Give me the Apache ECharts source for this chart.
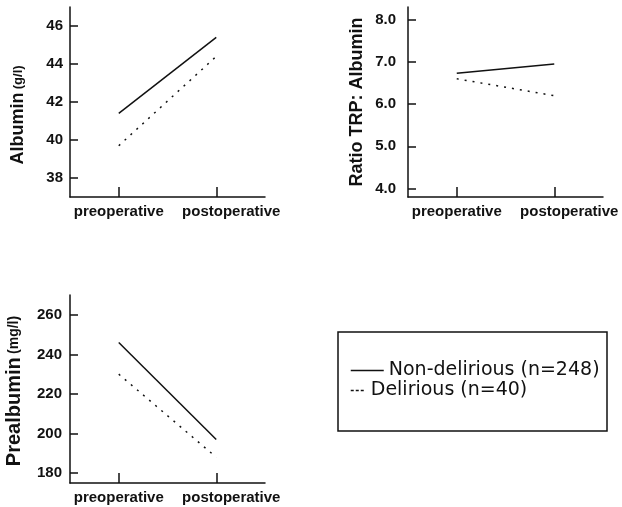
<!DOCTYPE html>
<html>
<head>
<meta charset="utf-8">
<script src="https://cdn.jsdelivr.net/npm/echarts@6/dist/echarts.min.js"></script>
<style>html,body{margin:0;padding:0;background:#fff;}#c{width:622px;height:507px;}</style>
</head>
<body>
<div id="c"></div>
<script>
const categories = ['preoperative', 'postoperative'];
const seriesNames = ['Non-delirious (n=248)', 'Delirious (n=40)'];

const albuminNon = [41.4, 45.4];
const albuminDel = [39.7, 44.4];
const ratioNon = [6.73, 6.95];
const ratioDel = [6.6, 6.2];
const prealbNon = [246, 197];
const prealbDel = [230, 188];

const albuminTicks = [38, 40, 42, 44, 46];
const ratioTicks = [4, 5, 6, 7, 8];
const prealbTicks = [180, 200, 220, 240, 260];

const FONT = '"Liberation Sans", Arial, sans-serif';
const INK = '#111';

const chart = echarts.init(document.getElementById('c'), null, {renderer: 'canvas'});

function xAxis(gi) {
  return {
    type: 'category', gridIndex: gi, data: categories, boundaryGap: true,
    axisLine: {show: true, lineStyle: {color: INK, width: 1.5}},
    axisTick: {show: true, inside: true, alignWithLabel: true, interval: 0, length: 10, lineStyle: {color: INK, width: 1.5}},
    axisLabel: {
      interval: 0, hideOverlap: false,
      color: INK, fontFamily: FONT, fontWeight: 'bold', fontSize: 15, margin: 7,
      formatter: v => v === 'postoperative' ? '{p|' + v + '}' : v,
      rich: {p: {color: INK, fontFamily: FONT, fontWeight: 'bold', fontSize: 15, padding: [0, 0, 0, 30]}}
    },
    splitLine: {show: false}
  };
}
function yAxis(gi, min, max, ticks, name, unit, fmt, gap, margin, fs, pad) {
  return {
    type: 'value', gridIndex: gi, min: min, max: max,
    name: unit ? '{a|' + name + '} {b|' + unit + '}' : '{a|' + name + '}',
    nameLocation: 'middle', nameGap: gap, nameRotate: 90,
    nameTextStyle: {
      padding: pad,
      rich: {
        a: {fontFamily: FONT, fontWeight: 'bold', fontSize: fs, color: INK},
        b: {fontFamily: FONT, fontWeight: 'bold', fontSize: Math.round(fs * 0.72), color: INK}
      }
    },
    axisLine: {show: true, lineStyle: {color: INK, width: 1.5}},
    axisTick: {show: true, inside: true, length: 8, customValues: ticks, lineStyle: {color: INK, width: 1.5}},
    axisLabel: {customValues: ticks, color: INK, fontFamily: FONT, fontWeight: 'bold', fontSize: 15, margin: margin, formatter: fmt},
    splitLine: {show: false}
  };
}
function line(gi, name, data, dashed) {
  return {
    type: 'line', name: name, xAxisIndex: gi, yAxisIndex: gi, data: data,
    symbol: 'none', silent: true, color: INK, z: 3,
    itemStyle: {color: INK},
    lineStyle: {color: INK, width: 1.5, type: dashed ? [2, 6] : 'solid'}
  };
}

const legendText = {fontFamily: '"DejaVu Sans", sans-serif', fontSize: 19, color: INK};

chart.setOption({
  animation: false,
  backgroundColor: '#fff',
  grid: [
    {left: 70, top: 7, width: 195, height: 190},
    {left: 408, top: 7, width: 195, height: 190},
    {left: 70, top: 295, width: 195, height: 188}
  ],
  xAxis: [xAxis(0), xAxis(1), xAxis(2)],
  yAxis: [
    yAxis(0, 37, 47, albuminTicks, 'Albumin', '(g/l)', v => String(v), 43, 7, 18, [0, 26, 0, 0]),
    yAxis(1, 3.8, 8.3, ratioTicks, 'Ratio TRP: Albumin', '', v => v.toFixed(1), 42, 12, 18, 0),
    yAxis(2, 175, 270, prealbTicks, 'Prealbumin', '(mg/l)', v => String(v), 46, 8, 20, [0, 4, 0, 0])
  ],
  legend: [
    {
      data: [seriesNames[0]], left: 350, top: 361, itemWidth: 33, itemHeight: 14,
      itemStyle: {opacity: 0},
      lineStyle: {color: INK, width: 1.5},
      textStyle: legendText, selectedMode: false, padding: 0
    },
    {
      data: [seriesNames[1]], left: 350, top: 381, itemWidth: 15, itemHeight: 14,
      itemStyle: {opacity: 0},
      lineStyle: {color: INK, width: 1.5, type: [3, 2]},
      textStyle: legendText, selectedMode: false, padding: 0
    }
  ],
  graphic: [
    {type: 'rect', shape: {x: 338, y: 332, width: 269, height: 99}, style: {fill: 'none', stroke: INK, lineWidth: 1.5}, silent: true}
  ],
  series: [
    line(0, seriesNames[0], albuminNon, false),
    line(0, seriesNames[1], albuminDel, true),
    line(1, seriesNames[0], ratioNon, false),
    line(1, seriesNames[1], ratioDel, true),
    line(2, seriesNames[0], prealbNon, false),
    line(2, seriesNames[1], prealbDel, true)
  ]
});
</script>
</body>
</html>
